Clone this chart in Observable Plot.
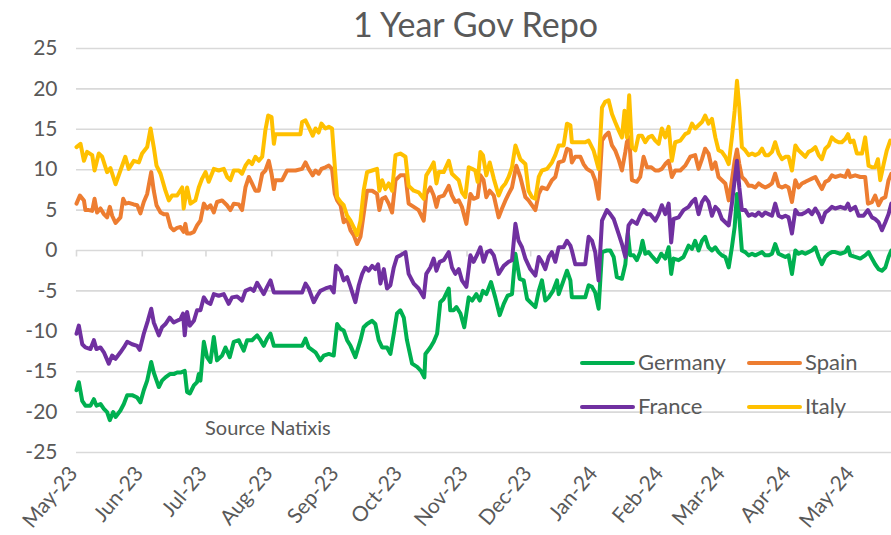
<!DOCTYPE html>
<html><head><meta charset="utf-8">
<script src="https://cdn.jsdelivr.net/npm/d3@7"></script>
<script src="https://cdn.jsdelivr.net/npm/@observablehq/plot@0.6"></script>
<style>
body{margin:0;background:#fff;}
#chart{position:relative;width:891px;height:535px;overflow:hidden;font-family:Lato,sans-serif;color:#595959;background:#fff;}
#title{position:absolute;left:0;width:951px;text-align:center;top:7px;font-size:34px;line-height:1;z-index:2;}
#plot{position:absolute;left:0;top:0;}
.lg{position:absolute;font-size:22px;line-height:1;white-space:nowrap;}
.sw{position:absolute;height:4px;border-radius:2px;}
#source{position:absolute;left:205px;top:417px;font-size:20px;line-height:1;}
</style></head><body>
<div id="chart"><div id="plot"></div><div id="title">1 Year Gov Repo</div><div id="source">Source Natixis</div><div id="legend"></div></div>
<script>
// [days since 1 May 2023, value]
const germany = [[0,-17.3],[1.1,-16.3],[2.7,-18.6],[4.2,-19.2],[6.6,-19.2],[8.2,-18.4],[9.4,-19.2],[11.3,-19.0],[12.9,-19.6],[14.4,-20.0],[15.7,-21.0],[17.3,-20.0],[18.4,-20.6],[20.7,-19.8],[22.3,-19.0],[23.9,-17.9],[26.2,-17.9],[28.6,-18.2],[30.1,-18.8],[31.7,-17.3],[33.3,-16.1],[35.2,-13.8],[36.4,-15.1],[38.8,-16.9],[40.3,-16.1],[41.9,-15.7],[44.0,-15.3],[45.8,-15.3],[47.4,-15.1],[49.0,-15.1],[51.0,-14.9],[52.1,-17.5],[53.4,-17.7],[55.3,-16.7],[56.8,-16.3],[57.6,-15.3],[58.4,-16.1],[60.0,-11.3],[61.5,-13.2],[63.1,-13.8],[64.7,-10.7],[66.2,-13.6],[68.6,-13.0],[70.2,-12.0],[72.2,-13.2],[74.1,-11.3],[76.5,-11.1],
[77.3,-11.6],[78.8,-12.4],[80.4,-11.1],[82.7,-11.1],[85.1,-10.5],[86.7,-11.1],[88.2,-11.8],[89.8,-10.9],[91.4,-10.3],[93.0,-11.8],[106.3,-11.8],[107.9,-10.9],[109.4,-12.0],[112.6,-12.6],[114.9,-13.6],[116.5,-13.0],[118.9,-12.8],[121.2,-13.0],[122.8,-9.1],[124.4,-9.7],[125.9,-9.9],[127.5,-11.1],[129.1,-11.8],[131.4,-13.2],[133.8,-11.1],[135.3,-9.5],[136.9,-9.1],[139.3,-8.7],[140.8,-9.1],[142.4,-11.1],[144.0,-12.0],[146.3,-12.0],[147.9,-12.8],[149.5,-10.3],[151.0,-7.8],[152.6,-7.4],[154.2,-8.3],
[155.7,-11.1],[158.1,-14.0],[160.5,-14.4],[162.3,-14.9],[163.9,-15.7],[164.4,-12.8],[166.7,-12.0],[168.3,-11.3],[169.9,-10.3],[171.4,-6.4],[173.0,-6.0],[175.4,-4.7],[176.1,-7.4],[177.7,-7.4],[179.0,-7.0],[180.9,-7.8],[182.7,-9.5],[184.8,-5.8],[186.4,-6.2],[188.4,-5.4],[190.0,-6.2],[191.5,-5.0],[193.1,-5.4],[195.3,-3.9],[197.3,-5.8],[199.4,-8.0],[201.3,-6.6],[203.1,-5.6],[205.2,-5.4],[206.8,-0.4],[208.8,-3.5],[210.7,-3.7],[212.3,-6.0],[214.6,-6.6],[216.2,-7.0],[217.8,-5.0],[219.3,-3.7],[220.9,-6.2],[222.5,-5.8],[224.5,-5.0],[226.4,-3.7],[227.2,-5.4],[229.5,-3.7],[231.1,-2.5],[232.7,-3.7],
[233.4,-5.8],[236.6,-5.8],[239.7,-5.8],[241.3,-4.3],[242.9,-4.5],[244.4,-5.2],[246.0,-7.2],[247.6,-0.2],[249.9,0.0],[251.5,0.0],[253.1,-0.8],[254.6,-3.3],[257.0,-3.5],[258.6,-1.7],[259.8,2.1],[260.9,-0.6],[262.5,-0.6],[264.0,-1.2],[265.6,-0.2],[266.7,1.2],[268.0,-0.4],[269.5,-0.2],[271.4,-0.8],[273.5,-1.4],[275.5,-0.4],[277.4,-1.0],[279.0,0.4],[280.2,-2.9],[281.3,-1.0],[283.7,-1.2],[286.0,-0.8],[288.4,0.6],[290.0,0.2],[291.5,1.2],[293.1,0.0],[294.7,1.2],[296.2,1.7],[297.8,0.4],[299.4,0.0],[301.0,0.4],[302.5,-0.2],[304.1,-0.6],[305.7,-0.8],
[307.3,-2.1],[308.8,0.4],[310.1,2.9],[311.2,7.0],[312.3,4.1],[313.5,0.0],[315.1,-0.2],[316.7,-0.6],[318.3,-0.4],[319.8,-0.6],[321.4,-0.4],[323.0,-0.2],[324.5,-0.6],[326.1,-0.6],[327.7,-0.4],[329.2,0.8],[330.8,-0.4],[332.4,-0.6],[334.0,-0.8],[335.5,-0.6],[337.1,-2.9],[338.7,0.0],[340.2,-0.4],[341.8,-0.2],[343.4,-0.4],[344.9,-0.2],[346.5,0.0],[348.1,0.4],[349.7,-0.8],[351.2,-1.7],[352.8,-0.8],[354.4,-0.4],[355.9,-0.2],[357.5,-0.2],[359.9,-0.4],[362.2,-0.2],[363.5,0.4],[364.6,-0.6],[366.9,-0.8],[369.3,-1.0],[371.6,-0.6],[373.2,-0.2],[374.8,-1.0],[376.3,-1.7],[377.9,-2.3],[379.5,-2.5],[381.1,-2.1],[382.6,-0.8],[383.9,0.0]];

const spain = [[0,5.8],[1.6,6.8],[3.5,6.2],[4.2,5.0],[5.8,5.0],[7.4,4.9],[8.5,6.4],[9.7,4.7],[11.3,5.2],[12.9,4.5],[14.4,4.1],[15.7,5.4],[16.8,4.3],[18.4,3.4],[20.7,4.1],[22.0,6.4],[23.1,5.8],[24.6,5.9],[27.0,5.7],[28.6,5.6],[30.1,4.6],[31.7,6.0],[33.3,7.0],[35.2,9.7],[36.4,7.4],[37.7,5.6],[39.6,4.7],[41.1,4.5],[42.7,4.5],[44.3,2.9],[45.8,2.5],[47.4,2.8],[49.0,2.9],[50.5,2.3],[51.3,3.3],[52.1,2.1],[53.7,2.1],[55.3,2.3],[56.8,3.1],[58.4,3.7],[60.0,5.8],[61.5,5.2],[63.1,5.6],[64.7,4.7],[66.2,6.0],[68.6,6.2],[70.9,5.6],[72.5,5.0],[74.1,5.8],[76.5,5.7],
[78.0,5.0],[79.6,7.8],[81.2,9.1],[82.7,8.3],[84.3,7.4],[85.9,7.4],[87.5,9.5],[89.0,9.9],[90.6,11.1],[91.9,9.5],[93.0,7.6],[93.7,8.7],[96.9,8.7],[99.2,9.9],[103.2,9.9],[106.3,10.1],[107.9,10.9],[109.4,10.1],[111.3,9.3],[112.6,9.9],[114.1,9.5],[115.4,10.1],[117.3,10.3],[118.9,10.5],[120.4,10.1],[121.7,7.0],[122.8,6.2],[124.4,5.6],[125.9,3.5],[127.5,3.9],[129.1,2.5],[130.6,1.9],[132.2,0.8],[133.8,1.7],[135.3,4.5],[136.9,7.4],[139.3,7.4],[141.6,7.0],[142.7,5.0],[144.0,6.4],[145.5,6.6],[147.1,5.8],[148.7,4.7],[150.3,8.7],[152.6,9.3],[155.0,9.3],
[156.5,5.8],[158.9,5.4],[161.2,5.0],[163.6,3.7],[164.8,7.0],[166.7,7.8],[168.3,6.8],[169.6,5.4],[170.7,6.6],[173.0,6.8],[175.4,8.0],[176.9,6.8],[178.5,6.0],[180.1,6.2],[181.6,5.4],[183.7,3.3],[185.6,7.0],[187.1,6.4],[189.0,6.6],[190.3,9.3],[191.8,8.7],[193.1,6.6],[194.7,7.4],[196.6,6.8],[198.9,4.1],[200.5,5.2],[202.1,6.2],[203.6,7.0],[205.2,7.8],[207.2,10.5],[209.1,9.1],[211.5,6.6],[213.0,6.2],[216.2,5.0],[217.8,7.0],[219.3,7.8],[221.7,7.6],[224.0,8.7],[225.6,9.1],[227.2,10.9],[229.5,11.1],[231.1,12.6],[232.7,12.4],
[233.4,10.9],[235.0,11.6],[237.4,11.6],[238.9,10.7],[240.5,10.1],[242.9,9.7],[244.4,8.7],[246.0,6.4],[247.6,13.6],[249.1,14.2],[250.7,14.6],[252.3,13.0],[253.8,12.4],[255.4,11.3],[257.0,9.9],[258.6,12.2],[259.3,13.4],[260.4,14.0],[261.7,8.7],[264.0,8.5],[265.6,9.1],[267.2,11.6],[268.8,10.3],[270.8,10.3],[272.7,9.9],[274.3,9.9],[275.8,10.1],[277.4,10.7],[279.0,11.1],[280.5,9.1],[282.1,9.9],[284.5,9.9],[286.8,10.5],[289.2,11.6],[291.5,11.8],[293.1,10.1],[294.7,11.3],[296.2,12.6],[297.8,12.0],[299.4,10.1],[301.0,10.9],[302.5,9.1],[304.1,8.7],[305.7,8.3],
[307.3,6.2],[308.8,8.7],[310.1,11.1],[311.2,12.5],[312.3,10.7],[313.5,9.1],[315.1,8.7],[316.7,8.0],[318.3,8.0],[319.8,7.8],[321.4,8.3],[323.0,8.0],[324.5,7.8],[326.1,8.0],[327.7,8.3],[329.2,9.5],[330.8,8.0],[332.4,7.8],[334.0,8.0],[335.5,7.8],[337.1,6.0],[338.7,8.7],[340.2,7.8],[341.8,8.3],[343.4,8.5],[344.9,8.7],[346.5,8.9],[348.1,9.1],[349.7,8.3],[351.2,7.6],[352.8,8.5],[354.4,8.7],[355.9,9.3],[357.5,9.1],[359.9,9.3],[362.2,9.1],[363.5,9.9],[364.6,9.1],[366.9,9.3],[369.3,9.1],[371.6,9.1],[372.9,5.8],[374.8,6.0],[376.3,6.8],[377.9,5.6],[379.5,6.4],[381.1,6.6],[382.6,8.7],[383.9,9.5]];

const france = [[0,-10.3],[1.1,-9.3],[2.7,-11.6],[4.2,-12.0],[6.6,-12.2],[8.2,-11.1],[9.4,-12.2],[11.3,-12.0],[12.9,-12.6],[15.2,-14.0],[16.8,-13.0],[18.4,-13.4],[20.7,-12.6],[22.3,-12.0],[23.9,-11.3],[26.2,-11.6],[28.6,-11.8],[29.8,-12.3],[31.7,-10.3],[33.6,-8.7],[35.2,-7.2],[36.4,-8.9],[38.8,-10.5],[40.3,-9.5],[41.9,-9.1],[43.9,-8.3],[45.8,-8.9],[47.4,-8.7],[49.0,-8.5],[50.2,-7.8],[51.0,-10.5],[52.1,-7.6],[53.4,-9.3],[55.3,-8.7],[56.8,-7.4],[58.4,-7.4],[60.0,-5.8],[61.5,-6.4],[63.1,-6.6],[64.7,-5.4],[67.0,-5.6],[69.4,-5.4],[71.7,-6.6],[73.3,-5.8],[75.7,-5.7],
[78.0,-6.2],[79.6,-5.0],[82.0,-4.7],[83.5,-5.0],[85.1,-4.0],[86.7,-4.7],[88.2,-5.4],[89.8,-4.5],[91.4,-3.7],[93.0,-5.2],[106.3,-5.2],[107.9,-4.1],[109.4,-4.7],[111.8,-6.4],[113.4,-5.6],[114.9,-5.0],[117.3,-4.7],[119.6,-4.5],[121.2,-5.2],[122.3,-1.9],[124.4,-2.5],[125.9,-3.7],[127.5,-3.3],[129.1,-4.5],[131.4,-6.4],[133.0,-4.3],[134.6,-2.9],[136.1,-2.1],[137.7,-2.5],[139.3,-1.9],[140.8,-2.3],[142.1,-1.7],[143.2,-4.1],[144.8,-2.3],[146.3,-4.7],[147.9,-4.3],[149.5,-2.1],[151.0,-0.8],[152.6,-0.6],[155.0,-0.2],
[156.5,-2.9],[158.9,-4.1],[161.2,-4.7],[163.6,-5.8],[164.8,-2.9],[166.7,-2.1],[168.3,-1.0],[169.6,-2.5],[171.1,-1.4],[173.0,-1.2],[175.4,-0.2],[176.9,-2.1],[178.5,-2.9],[180.1,-2.3],[181.6,-3.7],[183.7,-4.5],[185.6,-0.6],[187.1,-1.4],[189.0,-0.4],[190.3,0.4],[191.8,-1.4],[193.4,-0.2],[195.0,0.0],[196.6,-0.6],[198.9,-2.9],[201.3,-1.9],[203.6,-1.4],[205.2,-1.2],[206.8,3.3],[208.3,1.2],[209.9,0.4],[211.5,-1.0],[213.8,-2.3],[216.2,-3.1],[217.8,-0.8],[219.3,-1.4],[220.9,-2.3],[222.5,-0.8],[224.0,-0.2],[225.6,-1.4],[227.2,0.4],[229.5,0.4],[231.1,1.2],[232.7,0.6],
[233.4,0.0],[235.0,-1.7],[238.1,-1.7],[239.7,-1.7],[241.3,1.7],[242.9,1.2],[244.4,-0.2],[246.0,-3.7],[247.6,3.7],[249.9,5.0],[251.5,4.5],[253.1,3.9],[255.4,2.1],[257.0,0.8],[258.6,-0.8],[260.1,3.1],[261.7,3.7],[264.0,3.3],[265.6,4.3],[267.2,5.0],[268.8,4.5],[270.3,4.5],[272.7,3.7],[274.3,4.5],[275.8,5.6],[277.4,4.5],[279.0,5.8],[280.2,1.0],[281.3,3.9],[283.7,4.1],[286.0,5.0],[288.4,5.4],[290.0,6.0],[291.5,6.4],[293.1,4.5],[294.7,6.0],[296.2,6.6],[297.8,6.0],[299.4,4.3],[301.0,5.4],[302.5,5.0],[304.1,3.9],[305.7,3.5],
[307.3,3.1],[308.8,5.8],[310.1,8.7],[311.2,11.1],[312.3,7.8],[313.5,5.0],[315.1,5.0],[316.7,4.3],[318.3,4.5],[319.8,4.3],[321.4,4.7],[323.0,4.3],[324.5,4.7],[326.1,4.5],[327.7,4.3],[329.2,5.8],[330.8,4.3],[332.4,4.1],[334.0,4.3],[335.5,4.1],[337.1,2.1],[338.7,5.0],[340.2,4.5],[341.8,4.5],[343.4,4.7],[344.9,5.0],[346.5,4.5],[348.1,5.2],[349.7,4.5],[351.2,3.5],[352.8,4.7],[354.4,5.0],[355.9,5.4],[357.5,5.2],[359.9,5.4],[362.2,5.2],[363.5,5.8],[364.6,5.0],[366.9,5.4],[368.5,4.3],[370.8,4.3],[372.9,5.0],[374.8,4.1],[376.3,3.9],[377.9,3.5],[379.5,2.5],[381.1,3.5],[382.6,4.5],[383.9,5.8]];

const italy = [[0,12.8],[1.9,13.2],[3.5,11.1],[5.0,12.2],[7.4,11.8],[8.5,9.9],[10.5,12.0],[12.1,11.6],[14.4,9.7],[16.0,10.2],[18.4,8.2],[20.7,9.9],[23.0,11.6],[24.6,10.1],[27.0,11.1],[29.4,10.9],[30.9,12.0],[33.3,12.8],[34.9,15.1],[36.4,12.8],[37.7,10.5],[39.6,9.5],[41.9,7.4],[43.5,6.2],[45.0,6.8],[47.4,6.8],[49.8,7.8],[50.5,5.2],[52.1,7.8],[53.7,5.8],[56.0,6.2],[57.6,7.8],[59.2,8.9],[60.8,9.7],[62.3,8.5],[64.7,10.1],[67.0,9.9],[69.4,10.1],[71.0,9.1],[72.5,8.7],[74.1,9.9],[76.5,9.9],
[78.0,9.5],[79.6,10.5],[81.2,11.1],[82.7,10.7],[84.3,11.6],[85.9,11.1],[87.5,11.6],[89.0,14.9],[90.3,16.7],[91.9,16.5],[93.0,13.2],[93.7,14.4],[105.5,14.4],[106.3,15.9],[107.9,16.1],[109.4,15.3],[111.3,14.2],[112.6,15.1],[114.1,14.6],[115.4,15.7],[117.3,15.1],[118.9,15.3],[120.4,15.1],[121.2,12.2],[122.8,6.6],[124.4,6.0],[125.9,5.6],[127.5,4.3],[129.1,3.7],[130.6,2.9],[132.2,1.9],[133.8,3.7],[135.3,7.4],[136.9,9.7],[139.3,9.9],[141.6,10.1],[142.7,7.4],[144.0,8.7],[145.5,7.6],[147.1,8.3],[148.7,7.4],[150.3,11.8],[152.6,12.0],[155.0,11.6],
[156.5,8.0],[158.9,7.4],[161.2,7.2],[163.6,6.4],[164.8,9.3],[166.7,10.1],[168.3,10.9],[169.6,8.3],[170.7,9.7],[173.0,9.7],[175.4,11.1],[176.9,9.5],[178.5,9.1],[180.1,8.7],[181.6,7.2],[183.2,6.6],[184.8,10.3],[186.4,10.1],[187.9,9.9],[189.0,8.5],[190.3,12.2],[191.5,11.8],[193.1,9.3],[194.7,10.9],[196.6,8.9],[198.9,6.8],[200.5,7.8],[202.1,8.3],[203.6,9.1],[205.2,10.3],[206.8,13.0],[209.1,11.3],[211.5,10.7],[213.0,7.4],[214.6,6.6],[216.2,6.4],[217.8,9.1],[219.3,9.9],[221.7,10.1],[224.0,10.9],[225.6,11.8],[227.2,13.0],[229.5,13.0],[231.1,15.7],[232.7,15.5],
[233.4,13.4],[236.6,13.4],[239.7,13.4],[241.3,13.6],[243.6,12.4],[246.0,10.1],[247.6,17.7],[249.1,18.4],[250.7,18.6],[252.3,16.9],[253.8,15.9],[255.4,14.9],[257.0,14.0],[258.2,17.3],[259.3,14.0],[260.4,19.2],[261.7,12.8],[263.3,12.4],[264.8,14.2],[266.4,14.2],[268.0,13.4],[269.5,14.0],[271.1,14.2],[272.7,13.6],[274.3,13.2],[275.8,15.1],[277.4,14.0],[279.0,15.3],[280.5,11.1],[282.1,13.4],[284.5,13.6],[286.8,14.4],[288.4,14.6],[290.0,15.7],[291.5,15.1],[293.1,15.5],[294.7,15.9],[296.2,16.7],[297.8,15.7],[299.4,16.3],[301.0,14.0],[302.5,12.4],[304.1,12.2],[305.7,11.6],
[307.3,10.7],[308.8,14.0],[310.1,17.3],[311.2,21.0],[312.3,17.7],[313.5,12.8],[315.1,12.4],[316.7,11.8],[318.3,12.0],[319.8,11.8],[321.4,12.0],[323.0,12.6],[324.5,11.8],[326.1,11.8],[327.7,12.2],[329.2,13.4],[330.8,12.0],[332.4,11.3],[334.0,11.6],[335.5,11.6],[337.1,9.9],[338.7,13.0],[340.2,12.4],[341.8,12.0],[343.4,11.6],[344.9,12.2],[346.5,12.4],[348.1,12.8],[349.7,11.8],[351.2,11.3],[352.8,12.6],[354.4,13.0],[355.9,14.0],[357.5,13.6],[359.1,13.4],[360.6,13.4],[362.2,13.8],[363.5,14.4],[364.6,13.4],[366.1,13.6],[367.7,12.0],[370.1,12.0],[371.6,14.0],[373.2,10.5],[374.8,10.3],[376.3,10.3],[377.6,11.3],[378.7,8.7],[380.3,10.7],[381.8,12.4],[383.4,13.6]];

const seriesNames = ["Germany", "Spain", "France", "Italy"];
const seriesColors = ["#00B050", "#ED7D31", "#7030A0", "#FFC000"];
const seriesData = [germany, spain, france, italy];
const yTicks = [-25, -20, -15, -10, -5, 0, 5, 10, 15, 20, 25];
const startDay = Date.UTC(2023, 4, 1);
const lastDay = 384;

const toDate = d => new Date(startDay + d * 864e5);
const rows = seriesNames.flatMap((name, i) => seriesData[i].map(([d, v]) => ({name, date: toDate(d), value: v})));
const months = d3.utcMonth.range(new Date(startDay), new Date(Date.UTC(2024, 4, 2)));

const chart = Plot.plot({
  width: 891, height: 535,
  marginTop: 48, marginBottom: 83, marginLeft: 76, marginRight: 0,
  style: {fontFamily: "Lato, sans-serif", fontSize: "20px", color: "#595959", background: "#fff", overflow: "visible"},
  x: {type: "utc", domain: [toDate(0), toDate(lastDay)]},
  y: {domain: [-25, 25]},
  marks: [
    Plot.gridY(yTicks, {stroke: "#d9d9d9", strokeOpacity: 1, strokeWidth: 1.6}),
    Plot.ruleX(months, {x: d => d, y1: 0, y2: -0.8, stroke: "#d9d9d9", strokeWidth: 1.6}),
    Plot.axisY(yTicks, {tickSize: 0, tickPadding: 19, tickFormat: d => String(d), label: null, fill: "#595959", fontSize: 21}),
    Plot.axisX(months, {tickSize: 0, tickPadding: 17, dx: -3, tickRotate: -50, tickFormat: d3.utcFormat("%b-%y"), label: null, fill: "#595959", fontSize: 21}),
    ...seriesNames.map(name => Plot.line(rows.filter(r => r.name === name), {
      x: "date", y: "value", stroke: seriesColors[seriesNames.indexOf(name)],
      strokeWidth: 4, strokeLinejoin: "round", strokeLinecap: "round"
    }))
  ]
});
document.getElementById("plot").appendChild(chart);

// legend (HTML overlay, 2 x 2)
const legend = document.getElementById("legend");
const legLeft = [580, 747], legTop = [363, 407];
seriesNames.forEach((name, i) => {
  const col = i % 2, row = Math.floor(i / 2);
  const sw = document.createElement("div");
  sw.className = "sw";
  sw.style.cssText = `left:${legLeft[col]}px;top:${legTop[row] - 2}px;width:55px;background:${seriesColors[i]};`;
  legend.appendChild(sw);
  const t = document.createElement("div");
  t.className = "lg";
  t.textContent = name;
  t.style.cssText = `left:${legLeft[col] + 58}px;top:${legTop[row] - 12}px;`;
  legend.appendChild(t);
});
</script>
</body></html>
